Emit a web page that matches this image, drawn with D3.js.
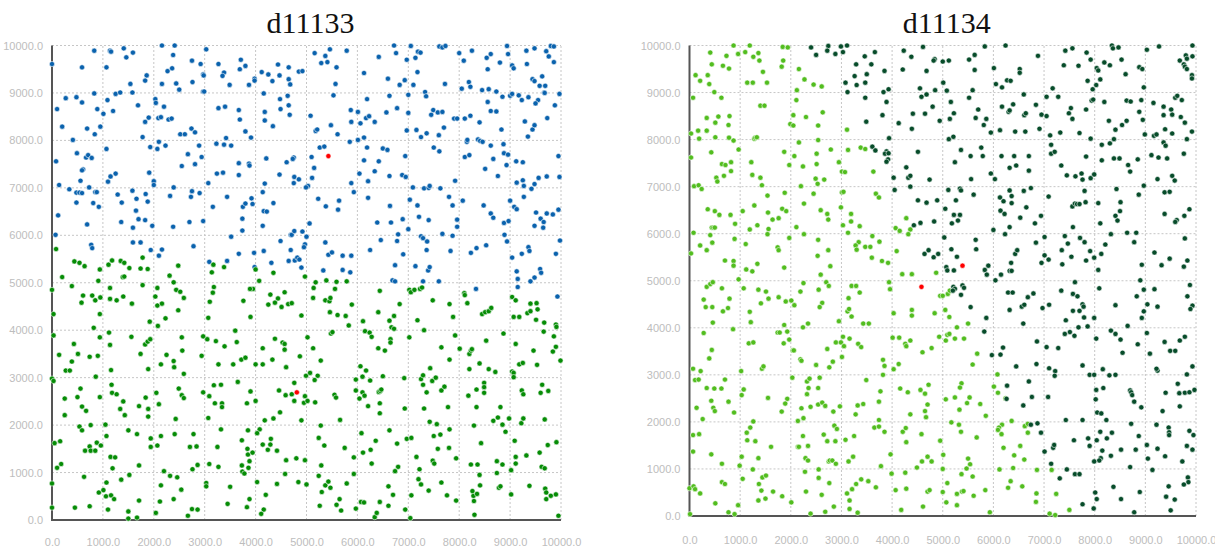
<!DOCTYPE html>
<html>
<head>
<meta charset="utf-8">
<script src="https://cdn.jsdelivr.net/npm/d3@7"></script>
<style>
  body { margin: 0; background: #fff; }
  svg { display: block; }
</style>
</head>
<body>
<div id="chart"></div>
<script>
  var titles = ["d11133", "d11134"];
  var tickValues = [0, 1000, 2000, 3000, 4000, 5000, 6000, 7000, 8000, 9000, 10000];

  // d11133: upper cluster (blue)
  var d11133Blue = [
    [0,9610],[830,9890],[1140,9890],[1160,9870],[1410,9940],[1590,9850],[1460,9750],[590,9540],[1070,9540],[2160,10000],[2410,10000],[2380,9800],[2270,9460],[2360,9520],[2750,9680],[2920,9610],[3030,9920],[2760,9230],[2970,9390],[2980,9370],[2160,9190],[2440,9200],[2500,9070],[1860,9370],[1830,9260],[1540,9190],[3270,9610],[3380,9430],[3350,9360],[3490,9170],[3710,9700],[3690,9500],[3800,9570],[3870,9170],[3980,9300],[3980,9260],[4120,9440],[4250,9390],[4330,9250],[4440,9600],[4470,9370],[4650,9540],[4650,9290],[4680,9180],[4850,9450],
    [100,8660],[270,8890],[480,8910],[590,8800],[830,8990],[890,8660],[1010,8560],[1090,8850],[1200,8620],[1250,8980],[1340,9010],[1580,9010],[1690,8740],[200,8290],[690,8250],[840,8130],[950,8290],[2030,8870],[2040,8790],[2200,8710],[1830,8390],[1900,8480],[2090,8470],[2140,8490],[2290,8440],[2350,8460],[1780,8070],[2520,8130],[2610,8130],[2740,8250],[2810,8170],[2970,9030],[2990,9030],[3270,8680],[3400,8710],[3670,8640],[3690,8440],[3800,8190],[3910,8060],[3420,8050],[4160,8990],[4180,8600],[4180,8420],[4340,8300],[4480,8870],[4490,8660],[4630,8940],[4650,8740],[4670,8540],
    [410,8010],[80,7560],[490,7730],[670,7640],[710,7690],[780,7630],[1070,7820],[610,7390],[590,7370],[560,7150],[1100,7130],[1150,7240],[1250,7300],[140,7060],[340,6970],[1930,7860],[2070,7820],[2100,7970],[2230,7890],[1910,7320],[2000,7140],[2000,7060],[2390,7010],[2550,7460],[2670,7710],[2810,7500],[2890,7890],[2940,7650],[3230,7930],[3380,7910],[3520,7890],[3670,7520],[3870,7510],[3880,7470],[3670,7270],[3240,7300],[3360,7320],[3070,7100],[4210,7620],[4470,7280],[4610,7540],[4750,7640],[4730,7610],[4760,7230],[4850,7180],[4180,7090],[4750,7100],
    [480,6900],[540,6900],[590,6890],[730,7010],[850,6910],[880,6910],[480,6690],[810,6680],[920,6600],[120,6420],[690,6230],[70,6010],[1290,6860],[1370,6690],[1580,6940],[1660,6770],[1840,6870],[1880,6710],[1650,6520],[1360,6280],[1590,6160],[1700,6340],[1830,6320],[1970,6200],[2320,6830],[2380,6180],[2730,6810],[2750,6930],[2900,6890],[2700,6280],[2970,6300],[3160,6600],[3440,6810],[3750,6600],[3800,6670],[3920,6780],[3940,6660],[3740,6350],[3740,6100],[3520,5970],[4140,6910],[4160,6510],[4220,6500],[4350,6680],[4140,6200],
    [770,5800],[790,5730],[1590,5850],[1740,5850],[1940,5690],[2100,5570],[2160,5700],[2780,5770],[3090,5440],[3440,5460],[3670,5610],[3970,5630],[4160,5670],[4490,5880],[4690,6010],[4710,6010],[4760,6090],[4690,5690],[4650,5460],[4770,5470],[4820,5530],[4860,5490],[4310,5420],[3980,5330],
    [4920,9460],[5160,9840],[5370,9780],[5460,9920],[5790,9890],[5290,9630],[5410,9650],[5590,9540],[5570,9190],[6130,9420],[6420,9760],[6720,10000],[6760,9840],[6600,9300],[6830,9170],[6930,9270],[6970,9700],[7050,9990],[7190,9870],[7240,9850],[7140,9740],[7180,9440],[7100,9170],[7610,9980],[7670,9960],[7730,9990],[7720,9190],[8000,9840],[8090,9680],[8250,9890],[8190,9230],[8220,9130],[8050,9090],[8450,9060],[8580,9080],[8540,9740],[8620,9820],[8560,9500],[8800,9640],[8940,9990],[8960,9820],[9040,9580],[9070,9520],[9320,9890],[9480,9940],[9710,9880],[9760,9770],[9800,9990],[9860,9980],[9860,9650],[9330,9610],[9440,9290],[9480,9250],[9580,9150],[9630,9350],[9690,9150],[8730,9030],[9670,9010],
    [5530,8950],[5080,8520],[5180,8200],[5210,8230],[5480,8320],[5610,8130],[5870,8640],[5880,8390],[6010,8600],[6060,8360],[6170,8470],[6230,8510],[6190,8870],[6340,8390],[6130,8060],[6010,8010],[6570,8590],[6630,8940],[6780,8680],[7000,8580],[6970,8210],[7000,8960],[7160,8220],[7250,8070],[7360,8150],[7600,8110],[7700,8270],[7330,9020],[7350,8930],[7450,8540],[7490,8640],[7580,8590],[7670,8600],[7900,8460],[7960,8460],[8110,8460],[8220,8520],[8400,8380],[8560,8810],[8620,8620],[8730,8610],[8830,8230],[8850,8920],[9000,8940],[9040,8980],[9170,8950],[9230,8850],[9360,8910],[9550,8850],[9500,8780],[9680,9000],[9880,8740],[9970,8980],[9290,8400],[9440,8230],[9480,8320],[9350,8080],[9730,8470],
    [5260,7850],[5350,7870],[5100,7650],[5150,7420],[5110,7210],[5030,7040],[4990,7010],[5850,7970],[6040,7300],[6130,7580],[6190,7850],[6210,7140],[6340,7350],[6420,7560],[6500,7830],[6590,7800],[6630,7250],[6880,7270],[6940,7670],[6950,7230],[7090,7010],[7310,6990],[7400,7000],[7420,7040],[7500,7850],[7610,7770],[7630,6990],[7920,7150],[8110,7650],[8150,7970],[8160,8010],[8200,7690],[8370,8020],[8410,7990],[8460,7970],[8510,7400],[8620,7890],[8670,7610],[8760,7250],[8870,7920],[8880,7730],[8960,7700],[8930,7480],[9120,7560],[9250,7540],[9130,7110],[9250,7160],[9270,7040],[9420,6980],[9480,7080],[9560,7210],[9720,7240],[9950,7670],[9970,7230],
    [5230,6770],[5380,6610],[5640,6730],[5620,6540],[5060,6250],[5880,7100],[5930,6910],[6210,6790],[6390,6270],[6640,6620],[6660,6270],[6890,6340],[7030,6750],[7180,6630],[7210,6390],[7400,6320],[7800,6810],[7870,6630],[7960,6330],[7960,6180],[8070,6730],[8480,6630],[8620,6460],[8670,6370],[8880,6260],[8970,6300],[9000,6730],[9080,6600],[9130,6550],[9270,6810],[9510,6480],[9480,6200],[9600,6350],[9660,6280],[9650,6160],[9720,6460],[9840,6440],[9950,6540],[7000,6130],
    [4920,6080],[5000,5970],[4970,5810],[4950,5750],[5370,5850],[5430,5590],[5500,5640],[5710,5570],[5880,5570],[4900,5320],[5330,5260],[5710,5270],[5860,5220],[6250,5690],[6460,5900],[6740,5370],[6780,5880],[6800,6020],[6900,5600],[7140,5350],[7250,5980],[7290,5940],[7370,5870],[7360,5690],[7390,5260],[7420,5330],[7670,6030],[7830,5670],[7870,5990],[8230,5630],[8340,5730],[8530,5790],[8890,6010],[8940,5870],[9040,5530],[9230,5610],[9360,5750],[9380,5670],[9130,5240],[9590,5290],[9610,5210],[9900,5610],[9980,5890],
    [6690,5050],[6740,5030],[7290,5030],[7600,5030],[8330,4870],[9150,5080],[9400,5030],[9480,5110],[9150,4910],[9930,4710]
  ];

  // d11133: lower cluster (green)
  var d11133Green = [
    [80,5710],[440,5450],[540,5420],[640,5350],[940,5280],[1110,5380],[1180,5470],[1350,5460],[1420,5420],[1520,5310],[1740,5300],[1880,5290],[1780,5530],[2480,5360],[3170,5380],[3380,5330],[3140,5220],[4000,5280],[4350,5210],
    [200,5120],[0,4850],[390,4930],[610,4730],[580,4580],[790,4730],[850,4630],[950,4690],[910,5040],[1390,5120],[1420,5130],[1140,4890],[1140,4660],[1270,4630],[1400,4710],[1570,4560],[1780,4950],[940,4340],[820,4050],[30,4340],[2310,5150],[2390,5010],[2070,4890],[2030,4710],[2070,4520],[2160,4560],[2440,4850],[2520,4810],[2590,4680],[2480,4420],[2230,4250],[1920,4180],[2080,4090],[3180,4910],[3160,4790],[3100,4600],[3070,4260],[3950,4870],[3890,4870],[4070,5040],[3760,4620],[3900,4280],[4290,4750],[4440,4670],[4380,4580],[4250,4540],[4510,4490],[4570,4800],[4640,4550],[4710,4570],
    [30,3890],[140,3480],[430,3710],[510,3500],[390,3340],[270,3150],[350,3150],[740,3440],[900,3460],[940,3850],[1120,3950],[1140,3690],[1160,3160],[860,3020],[1560,3860],[1740,3500],[1830,3700],[1880,3760],[1930,3810],[1890,3180],[2140,3280],[2250,3480],[2390,3350],[2400,3220],[2560,3570],[2550,3850],[2590,3080],[2970,3870],[3050,3810],[2940,3460],[3220,3770],[3390,3660],[3270,3280],[3560,3280],[3600,3990],[3630,3750],[3720,3380],[3800,3420],[4000,3280],[4140,3280],[4140,3620],[4330,3380],[4380,3820],[4530,3740],[4570,3710],[4570,3590],[4600,3220],
    [0,2980],[30,2930],[250,2560],[250,2210],[500,2590],[560,2770],[590,2390],[670,2300],[940,2590],[1170,2850],[1180,2680],[1270,2650],[1400,2500],[1340,2340],[1430,2210],[1710,2400],[1840,2580],[1890,2340],[1890,2180],[2050,2680],[2100,2440],[2490,2770],[2550,2630],[2590,2570],[2430,2130],[2970,2690],[3090,2610],[3180,2840],[3320,2850],[3200,2460],[3340,2460],[3340,2380],[3070,2150],[3650,2910],[3900,2710],[3830,2460],[4000,2510],[4180,2100],[4350,2140],[4460,2730],[4480,2270],[4590,2630],[4710,2650],[4760,2890],[4760,2510],
    [50,1620],[160,1660],[540,1970],[590,1890],[760,2000],[650,1460],[740,1550],[760,1460],[850,1460],[880,1630],[960,1570],[1070,1770],[1050,2010],[1150,1330],[1240,1320],[1500,1890],[1670,1810],[1940,1720],[1940,1540],[2070,1570],[2140,1770],[2410,1810],[2780,1810],[2710,1540],[2840,1550],[3320,1910],[3250,1540],[3730,1680],[3850,1890],[4080,1910],[4030,1830],[4140,1590],[4240,1480],[4290,1590],[4300,1710],[4420,1460],[3840,1500],[3850,1380],[3940,1420],[3880,1240],[3730,1150],[3860,1100],[4600,1260],[4800,1300],[100,1100],[180,1180],[1190,1090],[1710,1150],[3090,1180],[3270,1120],[2860,1160],[2760,1070],
    [0,770],[0,260],[630,910],[450,260],[740,290],[920,580],[1010,630],[1070,790],[1060,500],[1160,520],[1220,440],[1100,220],[1360,850],[1520,950],[1500,180],[1710,410],[1670,50],[1500,30],[2040,150],[2140,730],[2120,390],[2200,1030],[2320,930],[2460,900],[2540,640],[2390,440],[2670,90],[2750,230],[2860,220],[3030,780],[3030,710],[3450,340],[3500,700],[3740,1020],[3780,980],[4030,800],[3880,440],[3830,270],[4160,220],[4110,130],[4200,530],[4420,760],[4580,970],[4840,800],
    [4970,5130],[5180,5010],[5390,5050],[5590,5020],[5790,5030],[5140,4890],[5130,4680],[5370,4630],[5450,4610],[5470,4680],[5560,4870],[5890,4540],[5460,4380],[5610,4320],[5770,4300],[5830,4100],[4900,4310],[6440,4830],[6410,4380],[6110,4190],[6630,4200],[6720,4300],[6830,4550],[6670,4060],[6720,4030],[7020,4850],[7050,4800],[7120,4850],[7230,4870],[7270,4900],[7480,4630],[7180,4210],[7310,4000],[7810,4550],[7880,4280],[8100,4780],[8110,4740],[8160,4570],[8450,4340],[8510,4380],[8580,4400],[8630,4470],[9040,4700],[9110,4630],[9070,4280],[9180,4280],[9340,4360],[9400,4400],[9400,4560],[9520,4570],[9540,4440],[9510,4220],[9670,4160],[9900,4120],[9910,4070],
    [5020,3850],[5130,3620],[5280,3360],[4870,3450],[4990,3040],[5070,3100],[5220,3040],[5480,3930],[5510,3960],[6150,3980],[6240,3950],[6280,3860],[6410,3620],[6540,3570],[6650,3810],[6650,3740],[6060,3240],[6170,3150],[6100,3020],[7020,3850],[7650,3640],[7810,3380],[7920,3890],[7430,3200],[8010,3610],[8200,3500],[8230,3570],[8250,3600],[8200,3180],[8400,3300],[8530,3780],[8580,3180],[8710,3120],[8870,3930],[9110,3710],[9180,3280],[9250,3310],[9460,3570],[9530,3270],[9660,3970],[9860,3870],[9900,3650],[9840,3550],[9990,3360],[9040,3130],[9070,3100],[9070,3010],
    [4970,2610],[4950,2470],[5020,2510],[5160,2950],[5170,2480],[5550,2640],[5580,2580],[5660,2110],[4900,2100],[5970,2960],[5970,2730],[6040,2560],[6100,2690],[6140,2620],[6250,2940],[6500,3030],[6420,2700],[6450,2720],[6470,2750],[6440,2460],[6440,2250],[6210,2400],[6920,2990],[6930,2350],[7250,2970],[7290,3050],[7290,2850],[7360,2690],[7470,2930],[7540,3000],[7650,2730],[7710,2810],[7310,2350],[7780,2380],[7420,2070],[7560,2020],[8180,2620],[8340,2750],[8490,2890],[8490,2800],[8490,2680],[8340,2380],[8670,2090],[8760,2160],[8810,2380],[8850,2010],[8980,2140],[9230,2730],[9260,2650],[9220,2040],[9260,2140],[9600,2680],[9630,2850],[9750,2720],[9680,2120],
    [5280,1990],[5240,1730],[5350,1570],[5750,1520],[5930,1320],[5290,1150],[4970,1260],[6080,1830],[6110,1420],[6260,1480],[6360,1670],[6280,1190],[6630,1890],[6780,1610],[6800,1120],[6740,1030],[6970,1710],[7060,1730],[7160,1330],[7220,1070],[7480,1250],[7510,1190],[7500,1770],[7580,1500],[7630,1800],[7800,1520],[7810,1910],[7940,1300],[8290,1990],[8430,1620],[8230,1170],[8360,1170],[8740,1240],[8850,1170],[8910,1860],[9020,1050],[9090,1670],[9110,1330],[9110,1190],[9320,1360],[9580,1420],[9620,1120],[9680,1090],[9740,1580],[9910,1640],
    [5240,930],[5000,750],[5370,730],[5430,810],[5470,680],[5300,590],[5790,770],[5590,320],[5650,440],[5680,200],[5260,300],[5930,970],[5970,240],[6070,380],[6130,370],[6610,710],[6700,530],[6440,380],[6610,300],[6340,60],[6380,150],[6940,220],[7060,520],[7040,40],[7200,860],[7250,750],[7400,620],[7650,790],[7760,520],[7940,410],[8280,510],[8260,610],[8350,550],[8290,400],[8300,110],[8400,950],[8410,730],[8740,990],[8780,680],[8810,710],[9020,540],[9380,720],[9690,660],[9710,580],[9710,440],[9800,510],[9900,540],[9950,90]
  ];

  var d11133Centroids = [[5430,7670],[4810,2690]];

  // d11134: left cluster (light green)
  var d11134Light = [
    [410,9850],[730,9780],[870,10000],[960,9820],[440,9600],[660,9570],[780,9510],[120,9370],[210,9250],[360,9370],[390,9180],[490,9010],[1100,9860],[1190,10000],[1260,9760],[1360,9840],[1380,9680],[1450,9440],[1140,9210],[1250,9210],[1530,9210],[1840,9970],[1940,9960],[1850,9680],[1820,9550],[2160,9500],[2270,9280],[2450,9170],[2610,9130],[2120,9050],
    [70,8890],[630,8890],[340,8460],[510,8360],[570,8490],[790,8500],[770,8310],[170,8190],[340,8190],[30,8130],[190,8020],[510,8050],[780,8040],[870,7980],[1400,8720],[1480,8720],[1280,8020],[1300,8040],[1330,8050],[2110,8840],[2050,8520],[1990,8330],[2050,8300],[2300,8480],[2540,8300],[2630,8580],[2540,7990],[2160,7940],[3110,8210],
    [970,7790],[430,7730],[30,7620],[640,7480],[710,7460],[820,7520],[820,7330],[680,7230],[530,7190],[550,7110],[90,7010],[180,7030],[240,6950],[1220,7520],[1240,7250],[1400,7190],[1430,7030],[1870,7740],[2070,7650],[1970,7460],[2240,7430],[2510,7700],[2510,7480],[2790,7790],[2950,7520],[3010,7320],[3070,7310],[2490,7170],[2530,7060],[2660,7150],[2200,7010],[3130,7780],[3380,7830],[3470,7800],[3630,7320],
    [360,6520],[500,6480],[590,6400],[810,6400],[900,6210],[440,6130],[470,6130],[500,6130],[80,6020],[1280,6600],[1050,6480],[1540,6810],[1550,6450],[1340,6180],[1190,6090],[1560,6100],[1640,6300],[1760,6330],[1830,6530],[1910,6480],[1880,6870],[2110,6140],[2260,6640],[2450,6850],[2590,6500],[2720,6420],[2740,6300],[3010,6880],[3040,6890],[2990,6560],[3190,6420],[3190,6260],[3360,6160],[3030,6180],[3130,6020],[3680,6850],[3740,6770],[4070,6120],[4150,6060],[4360,6090],[4280,6330],[4320,5990],
    [410,5970],[450,5810],[210,5750],[340,5650],[30,5580],[700,5430],[870,5420],[870,5320],[890,5890],[1110,5780],[1120,5240],[1240,5200],[1340,5360],[1540,5990],[1740,5710],[1760,5650],[1870,5280],[1970,5910],[2260,5990],[2540,5870],[2740,5650],[2530,5530],[2780,5310],[3340,5820],[3280,5750],[3300,5660],[3470,5720],[3570,5720],[3610,5950],[3750,5830],[3600,5490],[3800,5420],[3920,5380],[4090,5630],[4200,5140],[4390,5140],[4870,5170],
    [340,4870],[410,4930],[460,4970],[640,4840],[280,4600],[320,4440],[450,4440],[660,4350],[760,4420],[790,4620],[460,4110],[970,5030],[1070,4840],[1360,4810],[1510,4770],[1410,4520],[1560,4620],[1760,4650],[1900,4560],[2010,4580],[2070,4480],[1190,4340],[1210,4120],[2250,4950],[2190,4770],[2550,4810],[2700,4970],[2750,4890],[2620,4530],[2570,4440],[2590,5130],[2240,4010],[2340,4090],[3200,4890],[3290,4890],[3360,4750],[3140,4630],[3120,4350],[3150,4400],[3200,4240],[2950,4140],[3430,4090],[3540,4090],[3940,4970],[3960,4820],[4030,4310],[4390,4380],[4390,4260],[4840,4310],[4950,4680],
    [280,3890],[440,3530],[390,3350],[70,3130],[220,3080],[860,3970],[1170,3670],[1260,3690],[1430,3130],[1460,3180],[1020,3080],[1740,3900],[1780,3900],[1870,4060],[1930,3920],[1860,3670],[1970,3750],[2040,3520],[2060,3520],[2190,3330],[2210,3300],[2500,3210],[2720,3550],[2760,3160],[2830,3280],[2890,3690],[3010,3380],[3030,3810],[2990,3690],[3050,3610],[3160,3770],[3330,3660],[3390,3590],[3820,3320],[3850,3190],[3820,3000],[4010,3790],[4140,3790],[4260,3660],[4280,3610],[4360,3730],[4130,3230],[4030,3120],[4600,3480],[4780,3570],[4930,3810],
    [110,2890],[180,2900],[340,2720],[490,2710],[630,2710],[700,2900],[430,2450],[470,2300],[500,2230],[770,2430],[880,2200],[140,2300],[260,2060],[1030,2570],[1070,2690],[1550,2510],[2030,2940],[2320,2860],[2370,2920],[2350,2720],[2320,2590],[2540,2720],[2570,2940],[1930,2490],[1890,2390],[1820,2220],[2210,2290],[2390,2320],[2540,2370],[2620,2410],[2680,2340],[2840,2220],[2970,2330],[2140,2020],[2250,2080],[3490,2890],[3770,2650],[3320,2350],[3430,2380],[3280,2160],[3740,2430],[4160,2710],[4310,2630],[4560,2680],[4650,2600],[4720,2790],[4700,2370],[4650,2230],[4670,2100],[4360,2160],
    [70,1720],[190,1740],[70,1370],[430,1310],[640,1110],[1260,2010],[1200,1880],[1130,1770],[1140,1610],[1300,1590],[1030,1260],[1360,1230],[1610,1470],[990,1070],[2240,1700],[2140,1470],[2160,1470],[2340,1490],[2290,1230],[2340,1180],[2650,1730],[2720,1590],[2880,1590],[2860,1920],[2910,1850],[2750,1160],[2770,1180],[2820,1180],[2890,1110],[2550,990],[3080,1620],[3250,1700],[3230,1260],[3140,1160],[3650,1880],[3740,1900],[3740,2040],[3850,1790],[3970,1310],[3780,1060],[4210,1790],[4270,1870],[4280,1570],[4580,1740],[4700,1260],[4590,1160],[4780,1160],[4490,1030],
    [0,590],[80,630],[110,570],[210,480],[510,270],[640,720],[700,680],[770,80],[890,40],[960,230],[1250,990],[1050,790],[1440,820],[1510,860],[1370,680],[1420,540],[1360,330],[1500,370],[1650,520],[1830,420],[2010,290],[2280,940],[2300,520],[2610,450],[2550,810],[2760,700],[2680,90],[2850,200],[2390,50],[3110,480],[3160,330],[3160,150],[3320,70],[3290,680],[3390,780],[3530,740],[3210,570],[3680,610],[3990,900],[4260,920],[4280,580],[4070,550],[4180,130],[4610,200],[4700,520],[4740,550],[10,40],
    [5000,4680],[5100,4720],[5140,4790],[5050,4380],[5130,4230],[5280,4010],[5500,4090],[5090,3850],[5130,3870],[5060,3730],[5240,3770],[5420,3770],[5680,3450],[5590,3220],[6080,3010],[5370,2820],[5340,2730],[5060,2480],[5240,2520],[5530,2520],[5480,2400],[5330,2260],[5740,2380],[5850,2130],[6010,2750],[6090,2620],[6240,2500],[5170,1990],[5320,1940],[5360,1790],[5670,1670],[4950,1600],[5010,1300],[5000,1000],[5090,700],[5370,890],[5590,840],[5470,1010],[5500,1220],[5540,1100],[5000,510],[5070,290],[5280,230],[5280,470],[5380,520],[5410,530],[5610,430],[5840,550],[5930,80],[6360,2020],[6170,1940],[6110,1880],[6090,1830],[6160,1740],[6620,1910],[6680,1960],[6680,1770],[6200,1450],[6410,1290],[6530,1490],[6610,1200],[6120,990],[6390,1020],[6340,740],[6290,600],[6570,630],[6860,980],[6850,480],[6840,300],[7240,470],[7150,980],[7500,130],[7110,50],[7220,20]
  ];

  // d11134: right cluster (dark green)
  var d11134Dark = [
    [2400,9960],[2500,9800],[2740,9990],[2720,9890],[2880,9820],[2990,9980],[3030,9860],[3110,10000],[3290,9600],[3460,9770],[3590,9600],[3660,9860],[3850,9460],[3260,9350],[3500,9390],[3470,9210],[3300,9160],[3080,9210],[3120,9010],[3830,9010],[3930,9070],[4230,9890],[4380,9760],[4610,9970],[4840,9710],[4820,9680],[4210,9490],[4680,9460],[4550,9090],[3470,8890],[3890,8800],[3810,8520],[3490,8380],[3940,8030],[4580,8910],[4680,8960],[4850,9050],[4800,8700],[4650,8550],[4410,8550],[4940,8400],[4130,8350],[4390,8230],[3610,7850],[3670,7770],[3890,7750],[3860,7700],[3930,7710],[3920,7580],[3890,7530],[4030,7190],[4280,7410],[4320,7190],[4360,7230],[4360,7000],[4050,6930],[4740,7150],[4510,7740],[4510,6710],[4680,6660],[4890,6710],[4830,6260],[4560,6230],[4430,6180],[4720,5650],[4640,5570],[4910,5570],[4820,5500],
    [5000,9660],[5120,9680],[5010,9210],[5080,9040],[5520,9700],[5630,9800],[5630,9480],[5830,9980],[5590,9050],[6240,10000],[6010,9520],[6050,9180],[6170,9110],[6270,9260],[6340,9250],[6520,9500],[6520,9420],[6880,9780],[7420,9890],[7560,9940],[7840,9850],[7920,9700],[7390,9580],[7680,9570],[7860,9250],[8040,9520],[8070,9470],[8110,9280],[8030,9160],[7960,9070],[8340,10000],[8360,9940],[8470,9960],[8190,9640],[8300,9580],[8530,9700],[8610,9390],[8880,9540],[8940,9500],[9030,9910],[9270,9980],[8970,9110],[9680,9680],[9760,9600],[9800,9790],[9820,9720],[9780,9550],[9820,9500],[9930,10000],[9930,9770],[9920,9370],[9920,9300],
    [5160,8800],[5220,8560],[5140,8440],[5120,8010],[5210,8060],[5520,8890],[5700,8640],[5650,8460],[5860,8440],[5810,8310],[5950,8150],[6170,8700],[6300,8590],[6320,8620],[6390,8750],[6600,8960],[6610,8520],[6640,8560],[6840,8740],[6950,8530],[6910,8230],[6130,8200],[6430,8170],[6630,8170],[7050,8910],[7050,8500],[7170,9090],[7280,8910],[7490,8560],[7530,8670],[7560,8440],[7700,8140],[7830,8640],[7940,8830],[7970,8850],[7320,8150],[7120,8090],[7920,8020],[8190,8800],[8280,8400],[8410,8210],[8540,8310],[8630,8400],[8630,8830],[8710,8810],[8880,8590],[8950,8420],[8920,8840],[8380,8010],[8990,8110],[9160,8780],[9360,8700],[9510,8640],[9590,8890],[9630,8930],[9720,8840],[9530,8530],[9700,8480],[9780,8360],[9920,8170],[9360,8520],[9390,8220],[9530,8130],[9170,8080],[9220,8110],
    [5360,7780],[5240,7520],[5550,7650],[5760,7830],[5790,7650],[5560,7160],[5950,7280],[6030,7160],[6160,7650],[6410,7650],[6700,7650],[6320,7400],[6450,7450],[6700,7340],[7140,7890],[7140,7700],[7210,7740],[7340,7450],[7450,7240],[7620,7220],[7740,7280],[7760,7150],[7830,7640],[7920,7180],[7990,7260],[8140,7890],[8140,7560],[8300,7920],[8380,7600],[8490,7600],[8660,7460],[8700,7320],[8850,7580],[8970,7020],[9120,7670],[9260,7620],[9430,7600],[9360,7940],[9400,7870],[9240,7160],[9530,7230],[9580,7130],[9760,7700],[9820,8010],
    [5110,6930],[5340,6960],[5360,6920],[5260,6710],[5610,6830],[5050,6530],[5220,6400],[5340,6400],[5300,6280],[5180,6220],[6000,6080],[6130,6770],[6200,6690],[6140,6490],[6220,6420],[6320,6920],[6360,6800],[6360,6650],[6600,6910],[6740,6970],[6650,6560],[6530,6340],[6320,6140],[6820,6220],[6940,6380],[7090,6790],[7560,6580],[7610,6640],[7650,6630],[7700,6630],[7820,6670],[7800,6910],[7570,6140],[8070,6650],[8110,6220],[8430,6950],[8510,6670],[8500,6480],[8410,6380],[8450,6280],[8870,6830],[9380,6880],[9480,6890],[9380,6420],[9620,6290],[9590,6250],[9770,6380],[9870,6520],
    [5030,5920],[5170,5670],[5280,5510],[5650,5870],[5660,5670],[5900,5320],[5830,5230],[5870,5130],[5070,5290],[5090,5220],[5220,5220],[6230,5990],[6430,5570],[6470,5650],[6350,5380],[6320,5210],[6360,5210],[6840,5810],[7010,5930],[6950,5380],[7010,5540],[7090,5450],[7410,5950],[7470,5790],[7350,5650],[7540,5510],[7360,5350],[7710,5910],[7800,5820],[7910,5630],[7830,5430],[7990,5490],[8070,5230],[8130,5570],[8210,5770],[8320,5990],[8640,6020],[8820,6020],[8780,5820],[8930,5340],[9180,5600],[9320,5330],[9480,5470],[9780,5900],[9830,5430],[9760,5300],
    [5210,4870],[5240,4830],[5200,4790],[5390,4900],[5420,4850],[5360,4700],[5550,4440],[5860,4210],[5820,3920],[6040,5010],[6150,5130],[6290,4750],[6380,4750],[6680,4650],[6790,4730],[6560,4450],[6610,4490],[6320,4380],[6590,4090],[6970,4420],[7100,4490],[7340,4790],[7570,4720],[7660,4670],[7610,4970],[7760,4500],[7780,4450],[7700,4360],[7570,4360],[7430,4160],[7790,4220],[7990,4210],[7860,4030],[7680,4010],[8090,4840],[8410,4480],[8900,5010],[8970,4810],[8830,4670],[9180,4820],[9040,4500],[8970,4350],[8930,4210],[9240,4450],[9880,4910],[9830,4670],[9930,4470],[9890,4400],
    [6860,3710],[6190,3580],[6140,3430],[5970,3420],[6450,3180],[6850,3230],[7050,3590],[7280,3570],[7410,3870],[7510,3910],[7600,3830],[7760,3200],[7100,3140],[7220,3080],[7210,2980],[7900,3000],[7990,3000],[8160,3120],[8290,2990],[8410,3000],[8030,3770],[8320,3940],[8410,3870],[8510,3750],[8550,3470],[8650,4040],[8850,3650],[9030,3890],[9090,3450],[9240,3090],[9220,3130],[9380,3700],[9490,3510],[9590,3510],[9680,3730],[9780,3810],[9820,3010],[9930,3180],
    [6270,2770],[6260,2490],[6700,2860],[6760,2530],[6590,2350],[7080,2530],[8030,2680],[8170,2720],[8020,2480],[8050,2200],[8130,2180],[8230,2040],[7430,2040],[7760,2040],[8700,2670],[8720,2630],[8740,2570],[8780,2430],[8920,2310],[9400,2620],[9640,2810],[9670,2610],[9780,2620],[9870,2630],[9970,2680],[9340,2230],[9680,2330],
    [8720,1960],[9220,1940],[9460,1880],[9470,1780],[9470,1720],[9870,1810],[9950,1720],[9730,1160],[9820,1490],[9930,1410],[9240,1430],[9390,1270],[9050,1220],[9140,980],[9030,1510],[8870,1700],[8700,1040],[8520,1410],[8810,1410],[8320,1280],[8150,1390],[8120,1230],[8090,1180],[8240,1650],[8340,1770],[8110,1790],[8040,1610],[7900,1490],[7870,1650],[7990,1160],[7590,1610],[7450,990],[7610,890],[7700,890],[7310,800],[7140,1110],[7180,1450],[7200,1510],[7010,1370],[6940,1770],[6870,1970],[6740,1940],
    [8010,500],[8040,360],[7980,160],[8370,620],[8520,360],[8780,80],[8890,510],[7760,250],[9410,410],[9460,630],[9580,350],[9500,120],[9840,820],[9850,720],[9760,670]
  ];

  var d11134Centroids = [[4580,4870],[5390,5320]];

  var W = 1215, H = 547;

  var panels = [
    {title: titles[0], left: 52, right: 561, top: 45.5, bottom: 520, xLabelPad: 18,
     series: [{data: d11133Blue, color: "#0a62ad"}, {data: d11133Green, color: "#068c06"}],
     centroids: d11133Centroids},
    {title: titles[1], left: 689.5, right: 1196, top: 45.5, bottom: 516, xLabelPad: 20,
     series: [{data: d11134Light, color: "#52bd1f"}, {data: d11134Dark, color: "#074c2a"}],
     centroids: d11134Centroids}
  ];

  var svg = d3.select("#chart").append("svg")
    .attr("width", W)
    .attr("height", H);

  panels.forEach(function(p) { drawPanel(p); });

  function drawPanel(p) {
    var x = d3.scaleLinear().domain([0, 10000]).range([p.left, p.right]);
    var y = d3.scaleLinear().domain([0, 10000]).range([p.bottom, p.top]);
    var g = svg.append("g");

    // dotted grid
    var grid = g.append("g")
      .attr("stroke", "#c6c6c6")
      .attr("stroke-width", 1)
      .attr("stroke-dasharray", "2,2");
    grid.selectAll("line.v").data(tickValues.slice(1)).enter()
      .append("line")
      .attr("class", "v")
      .attr("x1", function(d) { return x(d); })
      .attr("x2", function(d) { return x(d); })
      .attr("y1", y(0))
      .attr("y2", y(10000));
    grid.selectAll("line.h").data(tickValues.slice(1)).enter()
      .append("line")
      .attr("class", "h")
      .attr("x1", x(0))
      .attr("x2", x(10000))
      .attr("y1", function(d) { return y(d); })
      .attr("y2", function(d) { return y(d); });

    // tick labels
    var fmt = d3.format(".1f");
    var yAxis = g.append("g")
      .attr("transform", "translate(" + p.left + ",0)")
      .call(d3.axisLeft(y).tickValues(tickValues).tickFormat(fmt).tickSize(0).tickPadding(9));
    var xAxis = g.append("g")
      .attr("transform", "translate(0," + p.bottom + ")")
      .call(d3.axisBottom(x).tickValues(tickValues).tickFormat(fmt).tickSize(0).tickPadding(p.xLabelPad));
    [yAxis, xAxis].forEach(function(a) {
      a.select(".domain").remove();
      a.attr("font-family", "'Liberation Sans', Arial, sans-serif").attr("font-size", 11);
      a.selectAll("text").attr("fill", "#bdbdbd");
    });

    // axis lines
    g.append("line")
      .attr("x1", x(0)).attr("x2", x(0))
      .attr("y1", y(0)).attr("y2", y(10000))
      .attr("stroke", "#555").attr("stroke-width", 2);
    g.append("line")
      .attr("x1", x(0) - 1).attr("x2", x(10000))
      .attr("y1", y(0)).attr("y2", y(0))
      .attr("stroke", "#555").attr("stroke-width", 2);

    // points
    p.series.forEach(function(s) {
      g.append("g").selectAll("circle").data(s.data).enter()
        .append("circle")
        .attr("cx", function(d) { return x(d[0]); })
        .attr("cy", function(d) { return y(d[1]); })
        .attr("r", 2.6)
        .attr("fill", s.color)
        .attr("stroke", "#fff")
        .attr("stroke-opacity", 0.7)
        .attr("stroke-width", 0.8);
    });

    // cluster centres
    g.append("g").selectAll("circle").data(p.centroids).enter()
      .append("circle")
      .attr("cx", function(d) { return x(d[0]); })
      .attr("cy", function(d) { return y(d[1]); })
      .attr("r", 2.6)
      .attr("fill", "#ff0000")
      .attr("stroke", "#fff")
      .attr("stroke-opacity", 0.7)
      .attr("stroke-width", 0.8);

    // title
    svg.append("text")
      .attr("x", (p.left + p.right) / 2 + 4)
      .attr("y", 33)
      .attr("text-anchor", "middle")
      .attr("font-family", "'Liberation Serif', 'Times New Roman', serif")
      .attr("font-size", 30)
      .attr("fill", "#111")
      .text(p.title);
  }
</script>
</body>
</html>
